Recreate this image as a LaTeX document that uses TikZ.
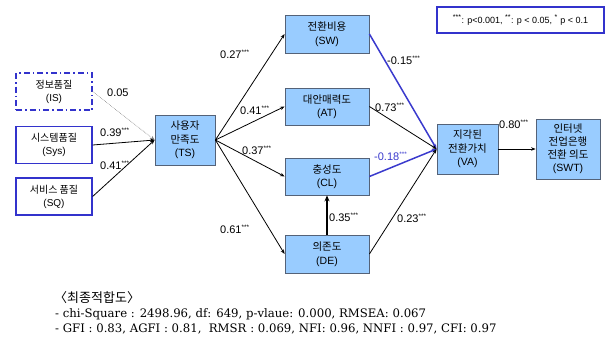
\documentclass[tikz,border=0pt]{standalone}
\usepackage{fontspec}
\setmainfont{Liberation Sans}
\newfontfamily\kr{Noto Sans CJK KR}
\newfontfamily\serifline{DejaVu Serif}
\usetikzlibrary{arrows.meta}
\definecolor{boxfill}{RGB}{153,204,255}
\definecolor{boxline}{RGB}{84,98,120}
\definecolor{edgeblue}{RGB}{51,51,204}
\definecolor{pathblue}{RGB}{58,58,205}
\newcommand{\sigstar}{\textsuperscript{\fontsize{6.5}{6.5}\selectfont ***}}
\newcommand{\sigmark}[1]{\textsuperscript{\fontsize{7}{7}\selectfont #1}}
\tikzset{
  latent/.style={draw=boxline, fill=boxfill, line width=0.8pt, inner sep=0pt,
    align=center, minimum width=84pt, minimum height=38pt,
    font=\fontsize{10.5}{13.5}\selectfont},
  source/.style={draw=edgeblue, fill=white, line width=1.2pt, inner sep=0pt,
    align=center, minimum width=76pt, minimum height=37pt,
    font=\fontsize{10}{13}\selectfont},
  path/.style={draw=black, line width=0.8pt, -{Stealth[length=4.5pt,width=3.5pt]}},
  bluepath/.style={draw=pathblue, line width=1.5pt, -{Stealth[length=5pt,width=4pt]}},
  coef/.style={anchor=west, inner sep=0pt, font=\fontsize{11}{12}\selectfont},
  fitline/.style={anchor=west, inner sep=0pt, font=\fontsize{11.7}{13}\selectfont\serifline},
}
\begin{document}
\begin{tikzpicture}[x=1pt, y=-1pt]
\useasboundingbox (0,0) rectangle (608,341);

% exogenous quality constructs
\node[source, dash pattern=on 6pt off 3pt on 1.5pt off 3pt] (is) at (54,91.5) {{\kr 정보품질}\\(IS)};
\node[source] (sys) at (54,145) {{\kr 시스템품질}\\(Sys)};
\node[source] (sq)  at (54,196.5) {{\kr 서비스 품질}\\(SQ)};

% satisfaction, mediators and outcomes
\node[latent, minimum width=60pt, minimum height=50pt] (ts) at (185,140) {{\kr 사용자}\\{\kr 만족도}\\(TS)};
\node[latent] (sw) at (327,34)    {{\kr 전환비용}\\(SW)};
\node[latent, minimum height=37pt] (at) at (327,106.5) {{\kr 대안매력도}\\(AT)};
\node[latent, minimum height=37pt] (cl) at (327,176.5) {{\kr 충성도}\\(CL)};
\node[latent] (de) at (327,254)   {{\kr 의존도}\\(DE)};
\node[latent, minimum width=61pt, minimum height=50pt] (va) at (467.5,149) {{\kr 지각된}\\{\kr 전환가치}\\(VA)};
\node[latent, minimum width=64pt, minimum height=60pt, font=\fontsize{10.5}{13}\selectfont] (swt) at (568,149) {{\kr 인터넷}\\{\kr 전업은행}\\{\kr 전환 의도}\\(SWT)};

% significance legend
\node[draw=edgeblue, line width=1.2pt, fill=white, minimum width=167pt, minimum height=26pt,
      inner sep=0pt, font=\fontsize{9}{10}\selectfont] (legend) at (520.5,20)
  {\sigmark{***}: p<0.001, \sigmark{**}: p < 0.05, \sigmark{*} p < 0.1};

% paths into satisfaction
\draw[draw=gray, densely dotted, line width=0.6pt, -{Stealth[length=4.5pt,width=3.5pt]}] (is.east) -- (ts.west);
\draw[path] (sys.east) -- (ts.west);
\draw[path] (sq.east) -- (ts.west);

% paths out of satisfaction
\draw[path] (ts.east) -- (sw.west);
\draw[path] (ts.east) -- (at.west);
\draw[path] (ts.east) -- (cl.west);
\draw[path] (ts.east) -- (de.west);

% paths into perceived switching value
\draw[bluepath] (sw.east) -- (va.west);
\draw[path] (at.east) -- (va.west);
\draw[bluepath] (cl.east) -- (va.west);
\draw[path] (de.east) -- (va.west);
\draw[draw=black, line width=1.8pt, -{Stealth[length=6pt,width=5pt]}] (de.north) -- (cl.south);
\draw[path] (va.east) -- (swt.west);

% path coefficients
\node[coef] (c1) at (107,93)  {0.05};
\node[coef] (c2) at (100,132) {0.39\sigstar};
\node[coef] (c3) at (100,165) {0.41\sigstar};
\node[coef] (c4) at (220,54)  {0.27\sigstar};
\node[coef] (c5) at (240,110) {0.41\sigstar};
\node[coef] (c6) at (242,150) {0.37\sigstar};
\node[coef] (c7) at (220,229) {0.61\sigstar};
\node[coef] (c8) at (387,60)  {-0.15\sigstar};
\node[coef] (c9) at (375,107) {0.73\sigstar};
\node[coef, text=pathblue] (c10) at (374,156) {-0.18\sigstar};
\node[coef] (c11) at (329,217) {0.35\sigstar};
\node[coef] (c12) at (397,218) {0.23\sigstar};
\node[coef] (c13) at (499,124) {0.80\sigstar};

% overall fit indices
\node[anchor=west, inner sep=0pt, font=\fontsize{13}{14}\selectfont] (fit) at (54,298) {{\kr〈최종적합도〉}};
\node[fitline] (fit1) at (55,314)
  {- chi-Square : 2498.96, df: 649, p-vlaue: 0.000, RMSEA: 0.067};
\node[fitline] (fit2) at (55,329)
  {- GFI : 0.83, AGFI : 0.81,\ \ RMSR : 0.069, NFI: 0.96, NNFI : 0.97, CFI: 0.97};
\end{tikzpicture}
\end{document}
